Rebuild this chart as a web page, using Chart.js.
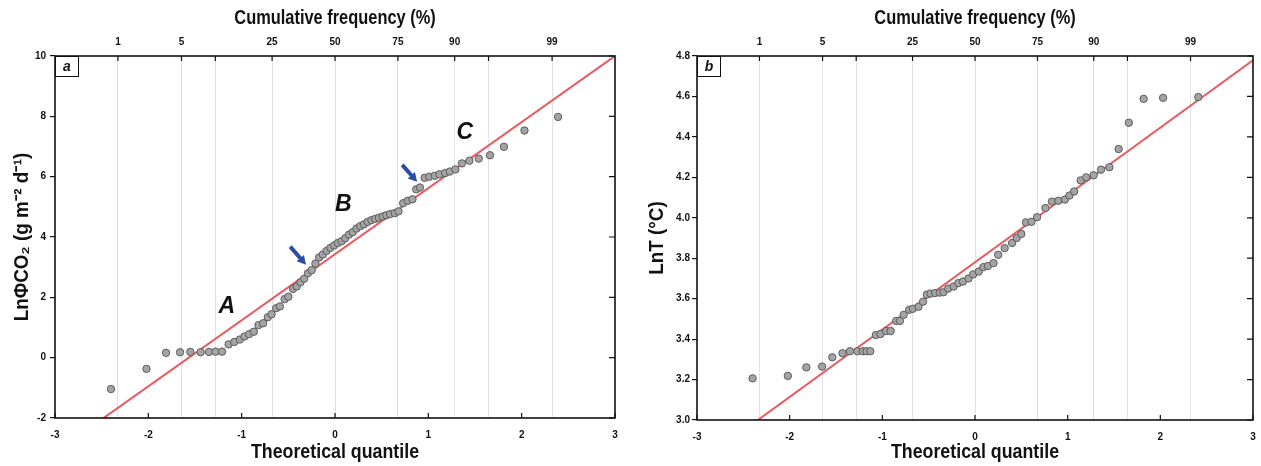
<!DOCTYPE html>
<html>
<head>
<meta charset="utf-8">
<script src="https://cdn.jsdelivr.net/npm/chart.js@4.4.1/dist/chart.umd.min.js"></script>
<style>
  body { margin: 0; background: #fff; }
  .panel { position: absolute; top: 0; }
</style>
</head>
<body>
<canvas id="chartA" class="panel" style="left:0" width="630" height="466"></canvas>
<canvas id="chartB" class="panel" style="left:640px" width="621" height="466"></canvas>

<script>
  // panel a: theoretical quantile vs ln CO2 flux
  const qA = [-2.40, -2.02, -1.81, -1.66, -1.55, -1.44, -1.35, -1.28, -1.21, -1.14,
    -1.08, -1.02, -0.97, -0.92, -0.87, -0.82, -0.77, -0.72, -0.68, -0.63,
    -0.59, -0.54, -0.50, -0.45, -0.41, -0.37, -0.33, -0.29, -0.25, -0.21,
    -0.17, -0.13, -0.09, -0.05, -0.01, 0.03, 0.07, 0.11, 0.15, 0.19,
    0.23, 0.27, 0.31, 0.35, 0.39, 0.43, 0.47, 0.51, 0.55, 0.59,
    0.64, 0.68, 0.73, 0.78, 0.83, 0.87, 0.91, 0.96, 1.01, 1.07,
    1.12, 1.18, 1.23, 1.29, 1.36, 1.44, 1.54, 1.66, 1.81, 2.03, 2.39];
  const lnFlux = [-1.04, -0.37, 0.16, 0.18, 0.19, 0.18, 0.19, 0.20, 0.20, 0.44,
    0.52, 0.60, 0.70, 0.78, 0.86, 1.08, 1.14, 1.34, 1.44, 1.64,
    1.70, 1.94, 2.02, 2.28, 2.36, 2.50, 2.62, 2.80, 2.90, 3.12,
    3.32, 3.42, 3.54, 3.64, 3.72, 3.80, 3.86, 3.96, 4.08, 4.16,
    4.28, 4.36, 4.42, 4.50, 4.56, 4.60, 4.64, 4.68, 4.72, 4.76,
    4.79, 4.85, 5.12, 5.20, 5.25, 5.58, 5.64, 5.96, 6.00, 6.03,
    6.08, 6.12, 6.17, 6.24, 6.44, 6.53, 6.60, 6.71, 6.99, 7.53, 7.98];

  // panel b: theoretical quantile vs ln temperature
  const qB = [-2.40, -2.02, -1.82, -1.65, -1.54, -1.43, -1.35, -1.27, -1.21, -1.17,
    -1.13, -1.07, -1.02, -0.96, -0.91, -0.85, -0.81, -0.77, -0.71, -0.67,
    -0.61, -0.56, -0.52, -0.48, -0.43, -0.38, -0.34, -0.29, -0.23, -0.18,
    -0.13, -0.07, -0.02, 0.04, 0.09, 0.14, 0.20, 0.25, 0.32, 0.40,
    0.45, 0.50, 0.55, 0.61, 0.67, 0.76, 0.83, 0.90, 0.97, 1.02,
    1.07, 1.14, 1.20, 1.28, 1.36, 1.45, 1.55, 1.66, 1.82, 2.03, 2.41];
  const lnTemp = [3.206, 3.218, 3.26, 3.264, 3.31, 3.33, 3.34, 3.34, 3.34, 3.34,
    3.34, 3.42, 3.425, 3.44, 3.44, 3.49, 3.49, 3.52, 3.545, 3.55,
    3.56, 3.585, 3.62, 3.625, 3.628, 3.63, 3.632, 3.65, 3.66, 3.677,
    3.685, 3.70, 3.72, 3.734, 3.756, 3.762, 3.776, 3.817, 3.85, 3.875,
    3.90, 3.92, 3.977, 3.98, 4.003, 4.048, 4.08, 4.084, 4.09, 4.11,
    4.13, 4.185, 4.20, 4.21, 4.238, 4.25, 4.34, 4.47, 4.588, 4.593, 4.597];

  // normal reference lines: [slope, intercept]
  const fitA = [2.19, 3.43];
  const fitB = [0.333, 3.78];

  // cumulative frequency (%) axis along the top
  const cumPct = ['1', '5', '', '25', '50', '75', '90', '', '99'];
  const cumPos = [-2.326, -1.645, -1.282, -0.674, 0, 0.674, 1.282, 1.645, 2.326];

  // segment letters and arrows on panel a
  const segText = ['A', 'B', 'C'];
  const segX = [-1.16, 0.09, 1.39];
  const segY = [1.69, 5.07, 7.45];
  const arrowFrom = [[-0.48, 3.68], [0.72, 6.39]];
  const arrowTo = [[-0.31, 3.08], [0.88, 5.83]];

  const FONT = '"Liberation Sans Narrow", "Liberation Sans", Arial, sans-serif';
  const INK = '#111';

  function drawArrow(ctx, x1, y1, x2, y2) {
    const ang = Math.atan2(y2 - y1, x2 - x1);
    const head = 10;
    ctx.strokeStyle = '#2a4ea6';
    ctx.fillStyle = '#2a4ea6';
    ctx.lineWidth = 4;
    ctx.beginPath();
    ctx.moveTo(x1, y1);
    ctx.lineTo(x2 - head * 0.7 * Math.cos(ang), y2 - head * 0.7 * Math.sin(ang));
    ctx.stroke();
    ctx.beginPath();
    ctx.moveTo(x2, y2);
    ctx.lineTo(x2 - head * Math.cos(ang - 0.5), y2 - head * Math.sin(ang - 0.5));
    ctx.lineTo(x2 - head * Math.cos(ang + 0.5), y2 - head * Math.sin(ang + 0.5));
    ctx.closePath();
    ctx.fill();
  }

  // condensed bold axis title (sx squeezes the glyphs horizontally)
  function axisTitle(ctx, text, x, y, rot, sx) {
    ctx.save();
    ctx.translate(x, y);
    ctx.rotate(rot);
    ctx.scale(sx, 1);
    ctx.fillStyle = INK;
    ctx.font = 'bold 20px ' + FONT;
    ctx.textAlign = 'center';
    ctx.textBaseline = 'middle';
    ctx.fillText(text, 0, 0);
    ctx.restore();
  }

  // box, inward ticks, titles, panel letter and annotations
  const framePlugin = {
    id: 'frame',
    afterDatasetsDraw(chart, args, opts) {
      const { ctx, chartArea: a, scales } = chart;
      ctx.save();
      ctx.strokeStyle = INK;
      ctx.lineWidth = 1.2;
      ctx.beginPath();
      cumPos.forEach(v => {
        const x = scales.xTop.getPixelForValue(v);
        ctx.moveTo(x, a.top); ctx.lineTo(x, a.top + 5);
      });
      scales.x.ticks.forEach(t => {
        const x = scales.x.getPixelForValue(t.value);
        ctx.moveTo(x, a.bottom); ctx.lineTo(x, a.bottom - 5);
      });
      scales.y.ticks.forEach(t => {
        const y = scales.y.getPixelForValue(t.value);
        ctx.moveTo(a.right, y); ctx.lineTo(a.right - 6, y);
      });
      ctx.stroke();

      ctx.lineWidth = 1.6;
      ctx.strokeRect(a.left, a.top, a.right - a.left, a.bottom - a.top);

      const cx = (a.left + a.right) / 2;
      axisTitle(ctx, 'Cumulative frequency (%)', cx, 18, 0, 0.82);
      axisTitle(ctx, 'Theoretical quantile', cx, chart.height - 14, 0, 0.89);
      axisTitle(ctx, opts.yTitle, opts.yTitleX, (a.top + a.bottom) / 2, -Math.PI / 2, 0.94);

      // panel letter in a small box
      ctx.lineWidth = 1;
      ctx.fillStyle = '#fff';
      ctx.fillRect(a.left, a.top, 23, 20);
      ctx.strokeRect(a.left + 0.5, a.top + 0.5, 23, 20);
      ctx.fillStyle = INK;
      ctx.font = 'italic bold 14px ' + FONT;
      ctx.textAlign = 'center';
      ctx.textBaseline = 'middle';
      ctx.fillText(opts.letter, a.left + 12, a.top + 11);

      if (opts.segments) {
        ctx.font = 'italic bold 23px "Liberation Sans", Arial, sans-serif';
        segText.forEach((s, i) => {
          ctx.fillText(s, scales.x.getPixelForValue(segX[i]), scales.y.getPixelForValue(segY[i]));
        });
        arrowFrom.forEach((p, i) => {
          drawArrow(ctx,
            scales.x.getPixelForValue(p[0]), scales.y.getPixelForValue(p[1]),
            scales.x.getPixelForValue(arrowTo[i][0]), scales.y.getPixelForValue(arrowTo[i][1]));
        });
      }
      ctx.restore();
    }
  };

  function makeChart(id, q, vals, fit, yr, yTitle, letter, segments, dims) {
    const points = q.map((x, i) => ({ x: x, y: vals[i] }));
    const line = [-3, 3].map(x => ({ x: x, y: fit[1] + fit[0] * x }));
    const tickFont = { family: FONT, size: 10, weight: 'bold' };
    return new Chart(document.getElementById(id), {
      type: 'scatter',
      data: {
        datasets: [
          {
            data: points,
            backgroundColor: '#a4a4a4',
            borderColor: '#5c5c5c',
            borderWidth: 1,
            pointRadius: 3.7
          },
          {
            type: 'line',
            data: line,
            borderColor: '#e85a62',
            borderWidth: 2,
            pointRadius: 0,
            fill: false
          }
        ]
      },
      options: {
        responsive: false,
        animation: false,
        devicePixelRatio: 1,
        layout: { padding: { left: 0, right: dims.right, top: 0, bottom: 0 } },
        plugins: {
          legend: { display: false },
          tooltip: { enabled: false },
          frame: { letter: letter, segments: segments, yTitle: yTitle, yTitleX: dims.titleX }
        },
        scales: {
          x: {
            type: 'linear', position: 'bottom', min: -3, max: 3,
            afterFit: s => { s.height = dims.bottom; },
            ticks: { stepSize: 1, padding: 3, color: INK, font: tickFont },
            grid: { display: false },
            border: { display: false }
          },
          xTop: {
            type: 'linear', position: 'top', min: -3, max: 3,
            afterFit: s => { s.height = 56; },
            afterBuildTicks: s => { s.ticks = cumPos.map(v => ({ value: v })); },
            ticks: {
              autoSkip: false, maxRotation: 0, padding: 8, color: INK, font: tickFont,
              callback: (v, i) => cumPct[i]
            },
            grid: { drawOnChartArea: true, drawTicks: false, color: '#e2e2e2', lineWidth: 1 },
            border: { display: false }
          },
          y: {
            type: 'linear', position: 'left', min: yr[0], max: yr[1],
            afterFit: s => { s.width = dims.left; },
            ticks: {
              stepSize: yr[2], padding: dims.tickPad, color: INK, font: tickFont,
              callback: v => yr[3] ? v.toFixed(yr[3]) : String(v)
            },
            grid: { drawOnChartArea: false, drawTicks: true, tickLength: 5, color: INK, lineWidth: 1.2 },
            border: { display: false }
          }
        }
      },
      plugins: [framePlugin]
    });
  }

  makeChart('chartA', qA, lnFlux, fitA, [-2, 10, 2, 0],
    'LnΦCO₂ (g m⁻² d⁻¹)', 'a', true,
    { left: 55, right: 15, bottom: 48, tickPad: 4, titleX: 22 });

  makeChart('chartB', qB, lnTemp, fitB, [3.0, 4.8, 0.2, 1],
    'LnT (°C)', 'b', false,
    { left: 57, right: 8, bottom: 46, tickPad: 2, titleX: 17 });
</script>
</body>
</html>
